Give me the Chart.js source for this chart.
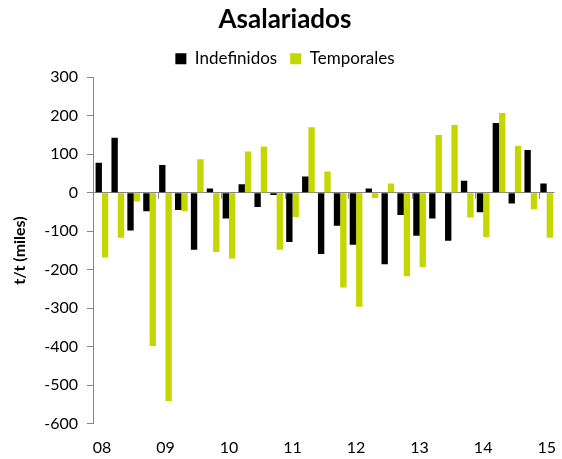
<!DOCTYPE html>
<html>
<head>
<meta charset="utf-8">
<script src="https://cdn.jsdelivr.net/npm/chart.js@4"></script>
<style>
  html, body { margin: 0; padding: 0; background: #fff; }
  #wrap { width: 562px; height: 459px; }
</style>
</head>
<body>
<div id="wrap"><canvas id="asalariados"></canvas></div>
<script>
// trimestres 2008T1 .. 2015T1
const anios = ['08', '09', '10', '11', '12', '13', '14', '15'];
const trimestres = [];
anios.forEach(a => {
  for (let q = 1; q <= 4; q++) {
    if (a === '15' && q > 1) break;
    trimestres.push(a + '-T' + q);
  }
});

const indefinidos = [78, 143, -98, -48, 72, -45, -148, 11, -67, 22,
  -37, -6, -128, 42, -159, -86, -135, 11, -186, -58,
  -112, -67, -125, 31, -51, 181, -28, 111, 24];
const temporales = [-168, -117, -23, -398, -541, -48, 87, -154, -171, 107,
  120, -148, -63, 170, 55, -246, -296, -14, 24, -217,
  -193, 150, 176, -64, -115, 207, 122, -43, -117];

const yTicks = [300, 200, 100, 0, -100, -200, -300, -400, -500, -600];

const fuente = "Lato, 'Open Sans', sans-serif";

// marcas del eje X (cada año) colgando de la línea del cero
const marcasAnio = {
  id: 'marcasAnio',
  afterDatasetsDraw(chart) {
    const x = chart.scales.x, y = chart.scales.y;
    const ctx = chart.ctx;
    const y0 = y.getPixelForValue(0);
    ctx.save();
    ctx.strokeStyle = '#868686';
    ctx.lineWidth = 1;
    for (let i = 4; i <= trimestres.length; i += 4) {
      const px = Math.round((x.getPixelForValue(i - 1) + x.getPixelForValue(i)) / 2) + 0.5;
      ctx.beginPath();
      ctx.moveTo(px, y0);
      ctx.lineTo(px, y0 + 6);
      ctx.stroke();
    }
    ctx.restore();
  }
};

new Chart(document.getElementById('asalariados'), {
  type: 'bar',
  data: {
    labels: trimestres,
    datasets: [{
      label: 'Indefinidos',
      data: indefinidos,
      backgroundColor: '#000000',
      barPercentage: 1,
      categoryPercentage: 0.8
    }, {
      label: 'Temporales',
      data: temporales,
      backgroundColor: 'rgb(197, 215, 0)',
      barPercentage: 1,
      categoryPercentage: 0.8
    }]
  },
  options: {
    responsive: true,
    maintainAspectRatio: false,
    animation: false,
    layout: { padding: { left: 10, right: 2, top: 2, bottom: -4 } },
    plugins: {
      title: {
        display: true,
        text: 'Asalariados',
        color: '#000',
        font: { family: fuente, size: 26, weight: 'bold' },
        padding: { top: 2, bottom: 2 }
      },
      legend: {
        position: 'top',
        labels: {
          color: '#000',
          font: { family: fuente, size: 17 },
          boxWidth: 11,
          boxHeight: 11,
          padding: 13
        }
      },
      tooltip: { enabled: false }
    },
    scales: {
      x: {
        border: { display: false },
        grid: { display: false },
        ticks: {
          autoSkip: false,
          maxRotation: 0,
          color: '#000',
          font: { family: fuente, size: 16 },
          padding: 6,
          callback: (v, i) => (i % 4 === 0 ? anios[i / 4] : '')
        }
      },
      y: {
        min: -600,
        max: 300,
        afterBuildTicks: axis => { axis.ticks = yTicks.map(v => ({ value: v })); },
        border: { display: true, color: '#868686' },
        grid: {
          color: c => (c.tick && c.tick.value === 0 ? '#868686' : 'rgba(0,0,0,0)'),
          tickColor: '#868686',
          tickLength: 7,
          drawOnChartArea: true
        },
        ticks: {
          color: '#000',
          font: { family: fuente, size: 16 },
          padding: 9
        },
        title: {
          display: true,
          text: 't/t (miles)',
          color: '#000',
          font: { family: fuente, size: 16, weight: 'bold' },
          padding: { top: 0, bottom: 6 }
        }
      }
    }
  },
  plugins: [marcasAnio]
});
</script>
</body>
</html>
